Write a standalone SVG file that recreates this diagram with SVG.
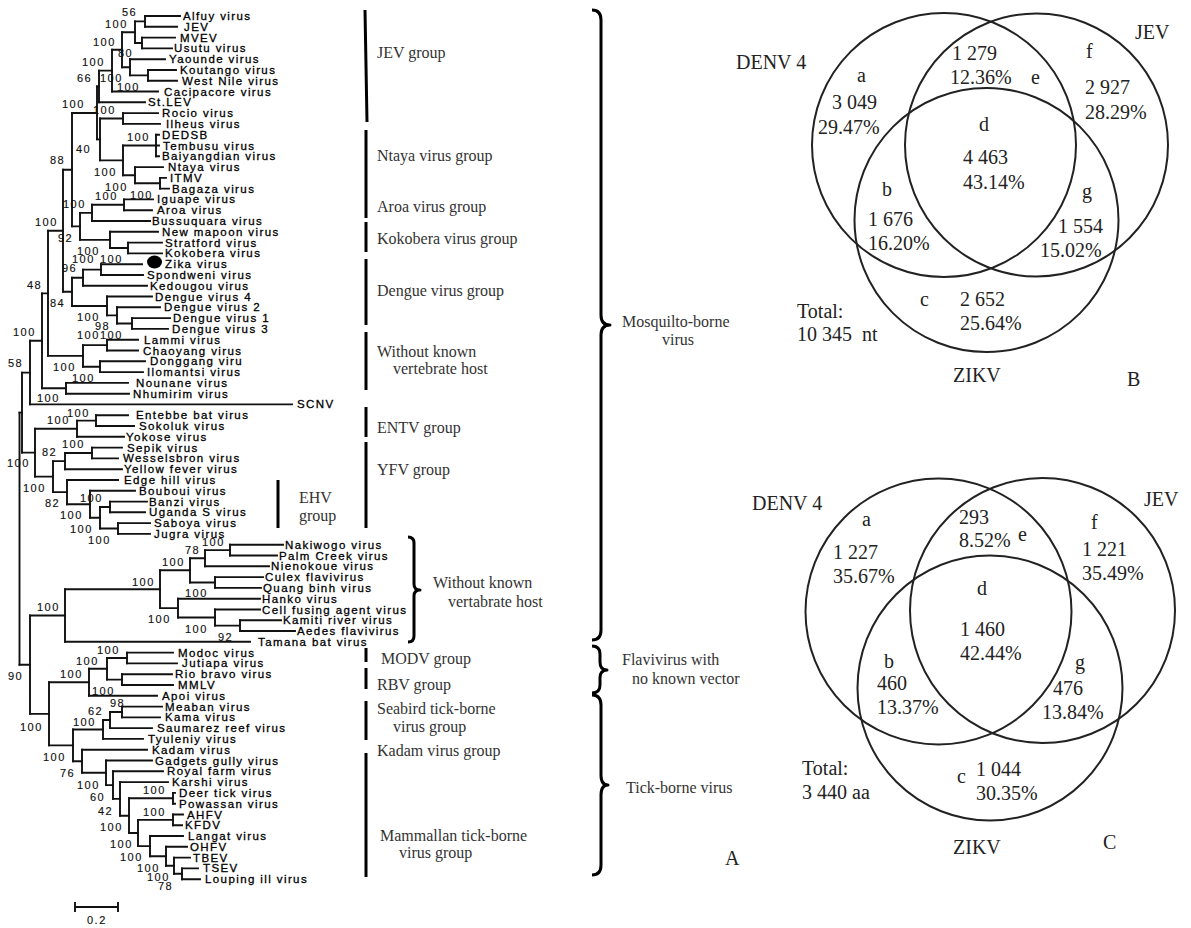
<svg xmlns="http://www.w3.org/2000/svg" width="1191" height="928" viewBox="0 0 1191 928">
<style>
.br{fill:none;stroke:#111;stroke-width:1.9;stroke-linecap:square}
.lf{font-family:"Liberation Sans",Arial,sans-serif;font-size:11.5px;letter-spacing:1.4px;fill:#000;stroke:#000;stroke-width:0.3}
.bs{font-family:"Liberation Sans",Arial,sans-serif;font-size:11px;letter-spacing:1.5px;fill:#111;stroke:#111;stroke-width:0.15}
.grp{font-family:"Liberation Serif","Times New Roman",serif;font-size:16px;fill:#333}
.vn{font-family:"Liberation Serif","Times New Roman",serif;font-size:20px;fill:#222}
.gl{stroke:#000;stroke-width:3}
.brace{fill:none;stroke:#000;stroke-width:3;stroke-linejoin:round}
.circ{fill:none;stroke:#222;stroke-width:2}
</style>
<rect width="1191" height="928" fill="#fff"/>
<g id="connectors">
<path class="br" d="M145 16H180M145 26.8H177M142 37.6H175M142 48.4H172M130 59.2H165M148 70H176M148 80.7H177M112 91.5H158M99 102.3H145M123 113.1H158M123 123.9H160M156 134.7H159M156 145.5H159M156 156.3H159M135 167.1H163M160 177.9H166M160 188.6H169M124 199.4H153M124 210.2H152M92 221H150M110 231.8H158M128 242.6H162M128 253.4H162M101 264.2H142M101 275H143M83 285.8H147M107 296.5H152M117 307.3H160M132 318.1H170M132 328.9H168M107 339.7H138M107 350.5H138M100 361.3H145M100 372.1H143M66 382.9H128M66 393.7H129M30 404.4H292M96 415.2H128M96 426H134M77 436.8H124M92 447.6H122M92 458.4H118M65 469.2H122M67 480H118M90 490.8H135M110 501.6H147M110 512.3H145M118 523.1H150M118 533.9H150M230 544.7H283M230 555.5H277M205 566.3H269M215 577.1H263M215 587.9H261M178 598.7H260M215 609.5H260M240 620.2H281M240 631H295M65 641.8H250M127 652.6H173M127 663.4H177M122 674.2H172M122 685H173M89 695.8H157M122 706.6H162M122 717.4H160M110 728.1H152M103 738.9H143M82 749.7H147M106 760.5H152M113 771.3H163M120 782.1H168M173 792.9H175M173 803.7H175M173 814.5H183M173 825.3H182M150 836H183M166 846.8H187M174 857.6H190M182 868.4H198M182 879.2H200"/>
<path class="br" d="M145 16V26.8M142 37.6V48.4M135 21.4V43M148 70V80.7M130 59.2V75.35M122 32.2V67.3M112 49.75V91.5M99 70.6V102.3M123 113.1V123.9M156 134.7V156.3M160 177.9V188.6M135 167.1V183.25M123 145.5V175.2M100 118.5V160.35M97 86.5V139.4M124 199.4V210.2M92 204.8V221M128 242.6V253.4M110 231.8V248M80 212.9V239.9M72 113V226.4M101 264.2V275M83 269.6V285.8M132 318.1V328.9M117 307.3V323.5M107 296.5V315.4M72 277.7V306M63 169.7V291.8M107 339.7V350.5M100 361.3V372.1M83 345.1V366.7M48 230.8V355.9M66 382.9V393.7M42 293.4V388.3M30 340.8V404.4M96 415.2V426M77 420.6V436.8M92 447.6V458.4M65 453V469.2M110 501.6V512.3M118 523.1V533.9M100 507V528.5M90 490.8V517.7M67 480V504.3M53 461.1V492.1M35 428.7V476.6M22 372.6V452.6M230 544.7V555.5M205 550.1V566.3M215 577.1V587.9M190 558.2V582.5M240 620.2V631M215 609.5V625.6M178 598.7V617.5M160 570.3V608.1M65 589.2V641.8M127 652.6V663.4M122 674.2V685M107 658V679.6M89 668.8V695.8M122 706.6V717.4M110 712V728.1M103 720V738.9M173 792.9V803.7M173 814.5V825.3M182 868.4V879.2M174 857.6V873.8M166 846.8V865.7M150 836V856.3M138 819.9V846.1M129 798.3V833M120 782.1V815.7M113 771.3V798.9M106 760.5V785.1M82 749.7V772.8M73 729.5V761.3M49 682.3V745.4M30 615.5V713.9M19.5 412.6V664.7"/>
<path class="br" d="M135 21.4H145M135 43H142M122 32.2H135M130 75.35H148M122 67.3H130M112 49.75H122M99 70.6H112M97 86.5H99M100 118.5H123M123 145.5H156M135 183.25H160M123 175.2H135M100 160.35H123M97 139.4H100M72 113H97M92 204.8H124M80 212.9H92M110 248H128M80 239.9H110M72 226.4H80M63 169.7H72M83 269.6H101M72 277.7H83M117 323.5H132M107 315.4H117M72 306H107M63 291.8H72M48 230.8H63M83 345.1H107M83 366.7H100M48 355.9H83M42 293.4H48M42 388.3H66M30 340.8H42M22 372.6H30M77 420.6H96M35 428.7H77M65 453H92M53 461.1H65M100 507H110M100 528.5H118M90 517.7H100M67 504.3H90M53 492.1H67M35 476.6H53M22 452.6H35M19.5 412.6H22M205 550.1H230M190 558.2H205M190 582.5H215M160 570.3H190M215 625.6H240M178 617.5H215M160 608.1H178M65 589.2H160M30 615.5H65M107 658H127M107 679.6H122M89 668.8H107M49 682.3H89M110 712H122M103 720H110M73 729.5H103M129 798.3H173M138 819.9H173M174 873.8H182M166 865.7H174M150 856.3H166M138 846.1H150M129 833H138M120 815.7H129M113 798.9H120M106 785.1H113M82 772.8H106M73 761.3H82M49 745.4H73M30 713.9H49M19.5 664.7H30"/>
</g>
<g id="zika-marker"><ellipse cx="154.5" cy="262" rx="7.5" ry="6.5" fill="#000"/></g>
<g id="leaves" class="lf">
<g id="l1"><text x="183" y="20">Alfuy virus</text></g>
<g id="l2"><text x="184" y="30.8">JEV</text></g>
<g id="l3"><text x="180" y="41.6">MVEV</text></g>
<g id="l4"><text x="174" y="52.4">Usutu virus</text></g>
<g id="l5"><text x="169" y="63.2">Yaounde virus</text></g>
<g id="l6"><text x="180" y="74">Koutango virus</text></g>
<g id="l7"><text x="182" y="84.7">West Nile virus</text></g>
<g id="l8"><text x="164" y="95.5">Cacipacore virus</text></g>
<g id="l9"><text x="148" y="106.3">St.LEV</text></g>
<g id="l10"><text x="162" y="117.1">Rocio virus</text></g>
<g id="l11"><text x="166" y="127.9">Ilheus virus</text></g>
<g id="l12"><text x="162" y="138.7">DEDSB</text></g>
<g id="l13"><text x="163" y="149.5">Tembusu virus</text></g>
<g id="l14"><text x="162" y="160.3">Baiyangdian virus</text></g>
<g id="l15"><text x="168" y="171.1">Ntaya virus</text></g>
<g id="l16"><text x="170" y="181.9">ITMV</text></g>
<g id="l17"><text x="172" y="192.6">Bagaza virus</text></g>
<g id="l18"><text x="157" y="203.4">Iguape virus</text></g>
<g id="l19"><text x="157" y="214.2">Aroa virus</text></g>
<g id="l20"><text x="152" y="225">Bussuquara virus</text></g>
<g id="l21"><text x="162" y="235.8">New mapoon virus</text></g>
<g id="l22"><text x="165" y="246.6">Stratford virus</text></g>
<g id="l23"><text x="165" y="257.4">Kokobera virus</text></g>
<g id="l24"><text x="165" y="268.2">Zika virus</text></g>
<g id="l25"><text x="147" y="279">Spondweni virus</text></g>
<g id="l26"><text x="150" y="289.8">Kedougou virus</text></g>
<g id="l27"><text x="155" y="300.5">Dengue virus 4</text></g>
<g id="l28"><text x="164" y="311.3">Dengue virus 2</text></g>
<g id="l29"><text x="173" y="322.1">Dengue virus 1</text></g>
<g id="l30"><text x="172" y="332.9">Dengue virus 3</text></g>
<g id="l31"><text x="144" y="343.7">Lammi virus</text></g>
<g id="l32"><text x="143" y="354.5">Chaoyang virus</text></g>
<g id="l33"><text x="150" y="365.3">Donggang viru</text></g>
<g id="l34"><text x="147" y="376.1">Ilomantsi virus</text></g>
<g id="l35"><text x="136" y="386.9">Nounane virus</text></g>
<g id="l36"><text x="133" y="397.7">Nhumirim virus</text></g>
<g id="l37"><text x="297" y="408.4">SCNV</text></g>
<g id="l38"><text x="136" y="419.2">Entebbe bat virus</text></g>
<g id="l39"><text x="139" y="430">Sokoluk virus</text></g>
<g id="l40"><text x="126" y="440.8">Yokose virus</text></g>
<g id="l41"><text x="127" y="451.6">Sepik virus</text></g>
<g id="l42"><text x="123" y="462.4">Wesselsbron virus</text></g>
<g id="l43"><text x="124" y="473.2">Yellow fever virus</text></g>
<g id="l44"><text x="124" y="484">Edge hill virus</text></g>
<g id="l45"><text x="139" y="494.8">Bouboui virus</text></g>
<g id="l46"><text x="149" y="505.6">Banzi virus</text></g>
<g id="l47"><text x="149" y="516.3">Uganda S virus</text></g>
<g id="l48"><text x="154" y="527.1">Saboya virus</text></g>
<g id="l49"><text x="154" y="537.9">Jugra virus</text></g>
<g id="l50"><text x="285" y="548.7">Nakiwogo virus</text></g>
<g id="l51"><text x="279" y="559.5">Palm Creek virus</text></g>
<g id="l52"><text x="271" y="570.3">Nienokoue virus</text></g>
<g id="l53"><text x="265" y="581.1">Culex flavivirus</text></g>
<g id="l54"><text x="263" y="591.9">Quang binh virus</text></g>
<g id="l55"><text x="262" y="602.7">Hanko virus</text></g>
<g id="l56"><text x="262" y="613.5">Cell fusing agent virus</text></g>
<g id="l57"><text x="283" y="624.2">Kamiti river virus</text></g>
<g id="l58"><text x="297" y="635">Aedes flavivirus</text></g>
<g id="l59"><text x="258" y="645.8">Tamana bat virus</text></g>
<g id="l60"><text x="178" y="656.6">Modoc virus</text></g>
<g id="l61"><text x="182" y="667.4">Jutiapa virus</text></g>
<g id="l62"><text x="175" y="678.2">Rio bravo virus</text></g>
<g id="l63"><text x="178" y="689">MMLV</text></g>
<g id="l64"><text x="162" y="699.8">Apoi virus</text></g>
<g id="l65"><text x="165" y="710.6">Meaban virus</text></g>
<g id="l66"><text x="165" y="721.4">Kama virus</text></g>
<g id="l67"><text x="157" y="732.1">Saumarez reef virus</text></g>
<g id="l68"><text x="148" y="742.9">Tyuleniy virus</text></g>
<g id="l69"><text x="152" y="753.7">Kadam virus</text></g>
<g id="l70"><text x="155" y="764.5">Gadgets gully virus</text></g>
<g id="l71"><text x="167" y="775.3">Royal farm virus</text></g>
<g id="l72"><text x="172" y="786.1">Karshi virus</text></g>
<g id="l73"><text x="179" y="796.9">Deer tick virus</text></g>
<g id="l74"><text x="179" y="807.7">Powassan virus</text></g>
<g id="l75"><text x="187" y="818.5">AHFV</text></g>
<g id="l76"><text x="185" y="829.3">KFDV</text></g>
<g id="l77"><text x="188" y="840">Langat virus</text></g>
<g id="l78"><text x="190" y="850.8">OHFV</text></g>
<g id="l79"><text x="193" y="861.6">TBEV</text></g>
<g id="l80"><text x="203" y="872.4">TSEV</text></g>
<g id="l81"><text x="205" y="883.2">Louping ill virus</text></g>
</g>
<g id="support" class="bs">
<text x="122" y="16">56</text><text x="105" y="28">100</text><text x="93" y="46">100</text><text x="118" y="57">80</text>
<text x="82" y="66">100</text><text x="77" y="82">66</text><text x="100" y="82">100</text><text x="117" y="91">100</text>
<text x="62" y="108">100</text><text x="93" y="114">100</text><text x="127" y="141">100</text><text x="76" y="153">40</text>
<text x="50" y="164">88</text><text x="94" y="176">100</text><text x="105" y="191">100</text><text x="95" y="200">100</text>
<text x="130" y="199">100</text><text x="63" y="208">100</text><text x="35" y="226">100</text><text x="58" y="242">92</text>
<text x="77" y="255">100</text><text x="72" y="263">100</text><text x="100" y="263">100</text><text x="62" y="272">96</text>
<text x="27" y="289">48</text><text x="50" y="307">84</text><text x="77" y="321">100</text><text x="95" y="330">98</text>
<text x="77" y="339">100</text><text x="100" y="339">100</text><text x="13" y="336">100</text><text x="8" y="367">58</text>
<text x="53" y="371">100</text><text x="72" y="382">100</text><text x="37" y="402">100</text><text x="67" y="417">100</text>
<text x="47" y="424">100</text><text x="62" y="448">100</text><text x="42" y="456">82</text><text x="7" y="467">100</text>
<text x="23" y="492">100</text><text x="45" y="507">82</text><text x="80" y="502">100</text><text x="60" y="519">100</text>
<text x="70" y="533">100</text><text x="88" y="544">100</text><text x="202" y="546">100</text><text x="185" y="554">78</text>
<text x="162" y="566">100</text><text x="132" y="586">100</text><text x="37" y="611">100</text><text x="185" y="597">100</text>
<text x="148" y="623">100</text><text x="185" y="633">100</text><text x="218" y="641">92</text><text x="97" y="654">100</text>
<text x="76" y="665">100</text><text x="8" y="680">90</text><text x="60" y="678">100</text><text x="92" y="695">100</text>
<text x="110" y="707">98</text><text x="88" y="715">62</text><text x="73" y="726">100</text><text x="20" y="731">100</text>
<text x="43" y="761">100</text><text x="60" y="777">76</text><text x="77" y="789">100</text><text x="90" y="801">60</text>
<text x="143" y="794">100</text><text x="98" y="815">42</text><text x="143" y="816">100</text><text x="100" y="831">100</text>
<text x="110" y="848">100</text><text x="120" y="861">100</text><text x="137" y="872">100</text><text x="147" y="881">100</text>
<text x="158" y="890">78</text>
</g>
<g id="scale-bar">
<path class="br" d="M75 907H118M75 903V911M118 903V911"/>
<text class="bs" x="87" y="924">0.2</text>
</g>
<g id="group-lines">
<path class="gl" d="M365 10L367 122M366 130V218M366 222V252M366 259V325M366 332V390M366 407V437M366 442V528M278 480V528M366 648V662M366 668V689M366 701V740M366 753V877"/>
</g>
<g id="group-labels" class="grp">
<text x="377" y="58">JEV group</text>
<text x="377" y="161">Ntaya virus group</text>
<text x="377" y="212">Aroa virus group</text>
<text x="377" y="244">Kokobera virus group</text>
<text x="377" y="296">Dengue virus group</text>
<text x="377" y="357">Without known</text>
<text x="393" y="374">vertebrate host</text>
<text x="377" y="433">ENTV group</text>
<text x="377" y="475">YFV group</text>
<text x="299" y="503">EHV</text>
<text x="299" y="521">group</text>
<text x="433" y="588">Without known</text>
<text x="448" y="607">vertabrate host</text>
<text x="381" y="664">MODV group</text>
<text x="377" y="690">RBV group</text>
<text x="377" y="714">Seabird tick-borne</text>
<text x="393" y="732">virus group</text>
<text x="377" y="756">Kadam virus group</text>
<text x="380" y="841">Mammallan tick-borne</text>
<text x="399" y="858">virus group</text>
</g>
<g id="braces">
<path class="brace" stroke-width="2.5" d="M408 537Q414 537 414 543V584Q414 590 420 590Q414 590 414 596V636Q414 642 408 642"/>
<path class="brace" d="M592 10Q601 10 601 20V315Q601 325 610 325Q601 325 601 335V630Q601 640 592 640"/>
<path class="brace" d="M592 646Q600 646 600 654V662Q600 670 607 670Q600 670 600 678V685Q600 693 592 693"/>
<path class="brace" d="M592 695Q601 695 601 705V775Q601 785 608 785Q601 785 601 795V865Q601 875 592 875"/>
</g>
<g id="clade-labels" class="grp">
<text x="622" y="327">Mosquilto-borne</text>
<text x="662" y="345">virus</text>
<text x="622" y="665">Flavivirus with</text>
<text x="632" y="684">no known vector</text>
<text x="626" y="793">Tick-borne virus</text>
</g>
<g id="panel-a-label"><text class="vn" x="725" y="865">A</text></g>
<g id="venn-B">
<circle class="circ" cx="944" cy="145" r="132"/>
<circle class="circ" cx="1036.5" cy="145" r="131.5"/>
<circle class="circ" cx="986.5" cy="220" r="132"/>
<g class="vn">
<text x="736" y="69">DENV 4</text>
<text x="1135" y="39">JEV</text>
<text x="857" y="82">a</text>
<text x="832" y="109">3 049</text>
<text x="818" y="134">29.47%</text>
<text x="952" y="60">1 279</text>
<text x="950" y="84">12.36%</text>
<text x="1031" y="84">e</text>
<text x="1086" y="58">f</text>
<text x="1085" y="94">2 927</text>
<text x="1085" y="119">28.29%</text>
<text x="979" y="131">d</text>
<text x="963" y="164">4 463</text>
<text x="963" y="189">43.14%</text>
<text x="882" y="196">b</text>
<text x="868" y="226">1 676</text>
<text x="868" y="250">16.20%</text>
<text x="1082" y="198">g</text>
<text x="1058" y="233">1 554</text>
<text x="1040" y="257">15.02%</text>
<text x="920" y="306">c</text>
<text x="960" y="306">2 652</text>
<text x="960" y="330">25.64%</text>
<text x="797" y="318">Total:</text>
<text x="797" y="341" style="white-space:pre">10 345  nt</text>
<text x="953" y="382">ZIKV</text>
<text x="1127" y="386">B</text>
</g>
</g>
<g id="venn-C">
<circle class="circ" cx="938.5" cy="611.5" r="133"/>
<circle class="circ" cx="1042.5" cy="610.5" r="132.5"/>
<circle class="circ" cx="990" cy="688" r="132.5"/>
<g class="vn">
<text x="752" y="510">DENV 4</text>
<text x="1144" y="506">JEV</text>
<text x="862" y="526">a</text>
<text x="833" y="559">1 227</text>
<text x="833" y="583">35.67%</text>
<text x="959" y="524">293</text>
<text x="959" y="547">8.52%</text>
<text x="1018" y="541">e</text>
<text x="1091" y="529">f</text>
<text x="1082" y="556">1 221</text>
<text x="1082" y="580">35.49%</text>
<text x="977" y="595">d</text>
<text x="960" y="636">1 460</text>
<text x="960" y="660">42.44%</text>
<text x="884" y="668">b</text>
<text x="877" y="690">460</text>
<text x="877" y="714">13.37%</text>
<text x="1075" y="669">g</text>
<text x="1053" y="695">476</text>
<text x="1042" y="719">13.84%</text>
<text x="957" y="783">c</text>
<text x="976" y="776">1 044</text>
<text x="976" y="800">30.35%</text>
<text x="802" y="775">Total:</text>
<text x="802" y="799">3 440 aa</text>
<text x="953" y="854">ZIKV</text>
<text x="1103" y="849">C</text>
</g>
</g>
</svg>
